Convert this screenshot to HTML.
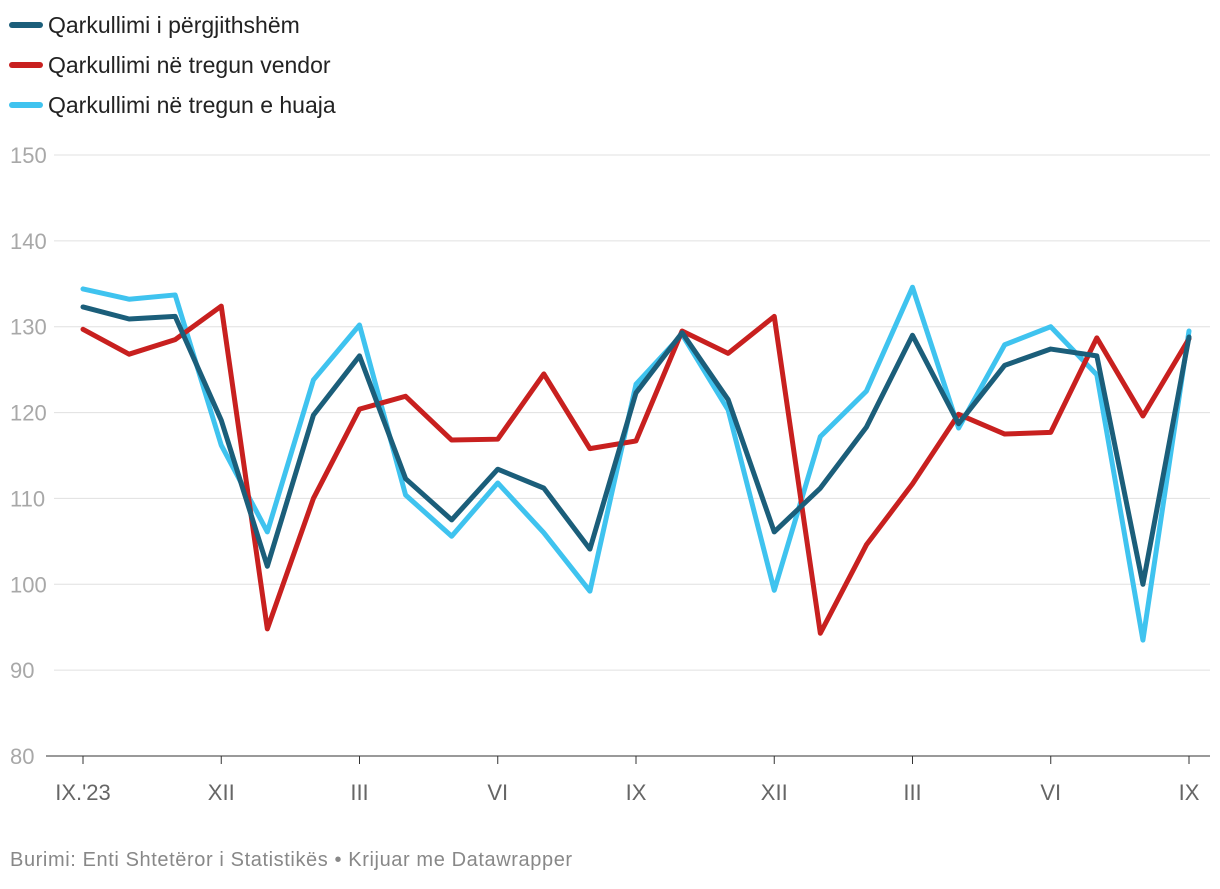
<!DOCTYPE html>
<html><head><meta charset="utf-8"><style>
body{margin:0;background:#fff;font-family:"Liberation Sans",sans-serif;}
svg text{font-family:"Liberation Sans",sans-serif;}
</style></head><body>
<svg id="c" width="1220" height="884"></svg>
<script>
const months=["IX.'23","","","XII","","","III","","","VI","","","IX","","","XII","","","III","","","VI","","","IX"];
const seriesNames=["Qarkullimi i përgjithshëm","Qarkullimi në tregun vendor","Qarkullimi në tregun e huaja"];
const totalVals=[132.3,130.9,131.2,119.1,102.1,119.7,126.6,112.3,107.5,113.4,111.2,104.1,122.3,129.3,121.5,106.1,111.2,118.3,129,118.7,125.5,127.4,126.6,100,128.8];
const domesticVals=[129.7,126.8,128.5,132.4,94.8,110,120.4,121.9,116.8,116.9,124.5,115.8,116.7,129.5,126.9,131.2,94.3,104.6,111.7,119.8,117.5,117.7,128.7,119.6,128.6];
const foreignVals=[134.4,133.2,133.7,116.2,106.1,123.8,130.2,110.4,105.6,111.8,106,99.2,123.3,129.1,120.3,99.3,117.2,122.5,134.6,118.2,127.9,130,124.4,93.5,129.5];
const yTicks=[80,90,100,110,120,130,140,150];
const colors=["#1b5e7a","#c8201f","#3fc3ef"];
const NS="http://www.w3.org/2000/svg";
const svg=document.getElementById('c');
const y=v=>756-(v-80)*(601/70);
const x=i=>83+i*(1106/24);
function mk(t,a,txt){const e=document.createElementNS(NS,t);for(const k in a)e.setAttribute(k,a[k]);if(txt!==undefined)e.textContent=txt;svg.appendChild(e);return e;}
yTicks.forEach(v=>{
 const g=mk('line',{x1:v===80?46:54,x2:1210,y1:y(v),y2:y(v),stroke:v===80?'#333':'#e0e0e0','stroke-width':1});
 
 
 const t=mk('text',{x:10,y:y(v)+8,fill:'#a8a8a8','font-size':22},String(v));
 
 
});
months.forEach((m,i)=>{
 if(m==='')return;
 const tk=mk('line',{x1:x(i),x2:x(i),y1:756,y2:764,stroke:'#333','stroke-width':1});
 
 
 const t=mk('text',{x:x(i),y:800,fill:'#666','font-size':22,'text-anchor':'middle'},m);
 
 
});
[[foreignVals,2],[domesticVals,1],[totalVals,0]].forEach(([vals,ci])=>{
 const p=mk('polyline',{points:vals.map((v,i)=>x(i)+','+y(v)).join(' '),fill:'none',stroke:colors[ci],'stroke-width':5,'stroke-linejoin':'round','stroke-linecap':'round'});
 
 
});
seriesNames.forEach((n,i)=>{
 const ly=25+i*40;
 const s=mk('line',{x1:12,x2:40,y1:ly,y2:ly,stroke:colors[i],'stroke-width':6,'stroke-linecap':'round'});
 
 
 const t=mk('text',{x:48,y:ly+8,fill:'#222','font-size':23},n);
 
 
});
const f=mk('text',{x:10,y:866,fill:'#888','font-size':20,'letter-spacing':0.6},'Burimi: Enti Shtetëror i Statistikës • Krijuar me Datawrapper');


</script>
</body></html>
